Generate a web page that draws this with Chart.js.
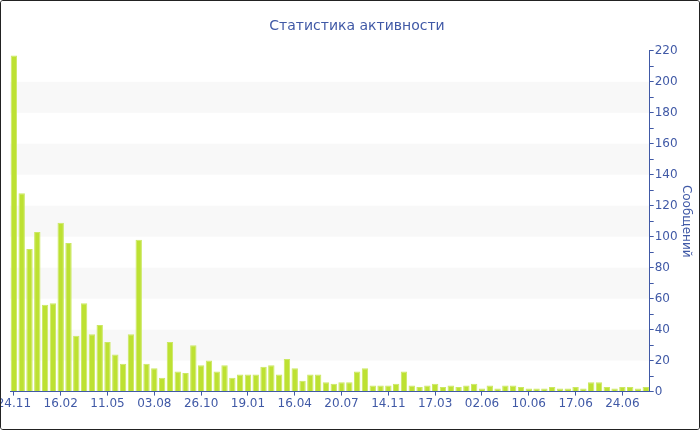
<!DOCTYPE html>
<html>
<head>
<meta charset="utf-8">
<script src="https://cdn.jsdelivr.net/npm/chart.js@4.4.1/dist/chart.umd.min.js"></script>
<style>
  body { margin: 0; background: #fff; }
  #wrap { width: 700px; height: 430px; box-sizing: border-box; border: 1px solid #222; border-radius: 3px; overflow: hidden; }
  canvas { display: block; }
</style>
</head>
<body>
<div id="wrap"><canvas id="activityChart" width="698" height="428"></canvas></div>
<script>
// Dates (one per bar), only every 6th is shown on the axis
const dates = [
  '24.11', '08.12', '22.12', '05.01', '19.01', '02.02',
  '16.02', '02.03', '16.03', '30.03', '13.04', '27.04',
  '11.05', '25.05', '08.06', '22.06', '06.07', '20.07',
  '03.08', '17.08', '31.08', '14.09', '28.09', '12.10',
  '26.10', '09.11', '23.11', '07.12', '21.12', '05.01',
  '19.01', '02.02', '16.02', '02.03', '16.03', '30.03',
  '16.04', '02.05', '18.05', '03.06', '19.06', '05.07',
  '20.07', '09.08', '29.08', '18.09', '07.10', '26.10',
  '14.11', '05.12', '25.12', '14.01', '03.02', '24.02',
  '17.03', '30.03', '13.04', '27.04', '08.05', '20.05',
  '02.06', '03.06', '04.06', '05.06', '06.06', '08.06',
  '10.06', '11.06', '12.06', '13.06', '14.06', '15.06',
  '17.06', '18.06', '19.06', '20.06', '21.06', '22.06',
  '24.06', '25.06', '26.06', '27.06'
];

// Messages per period
const messages = [
  217, 128, 92, 103, 56, 57,
  109, 96, 36, 57, 37, 43,
  32, 24, 18, 37, 98, 18,
  15, 9, 32, 13, 12, 30,
  17, 20, 13, 17, 9, 11,
  11, 11, 16, 17, 11, 21,
  15, 7, 11, 11, 6, 5,
  6, 6, 13, 15, 4, 4,
  4, 5, 13, 4, 3, 4,
  5, 3, 4, 3, 4, 5,
  2, 4, 2, 4, 4, 3,
  2, 2, 2, 3, 2, 2,
  3, 2, 6, 6, 3, 2,
  3, 3, 2, 3
];

// grey background stripes (start value, each 20 high)
const bandStarts = [20, 60, 100, 140, 180];
const bandHeight = 20;

const blue = '#4059a6';
const axisFont = { family: 'DejaVu Sans', size: 12 };

const bandsPlugin = {
  id: 'bands',
  beforeDraw(chart) {
    const { ctx, chartArea, scales } = chart;
    ctx.save();
    ctx.fillStyle = '#ffffff';
    ctx.fillRect(0, 0, chart.width, chart.height);
    ctx.fillStyle = '#f8f8f8';
    bandStarts.forEach(function (start) {
      const top = scales.y.getPixelForValue(start + bandHeight);
      const bottom = scales.y.getPixelForValue(start);
      ctx.fillRect(chartArea.left, top, chartArea.right - chartArea.left, bottom - top);
    });
    ctx.restore();
  }
};

new Chart(document.getElementById('activityChart').getContext('2d'), {
  type: 'bar',
  data: {
    labels: dates,
    datasets: [{
      label: 'Сообщений',
      data: messages,
      backgroundColor: '#bde132',
      borderColor: '#cbe862',
      borderWidth: 1,
      borderSkipped: 'bottom',
      barPercentage: 0.82,
      categoryPercentage: 1
    }]
  },
  options: {
    responsive: false,
    animation: false,
    devicePixelRatio: 1,
    layout: { padding: { left: 9, right: -5, top: 0, bottom: 17 } },
    plugins: {
      legend: { display: false },
      tooltip: { enabled: false },
      title: {
        display: true,
        text: 'Статистика активности',
        color: blue,
        font: { family: 'DejaVu Sans', size: 14, weight: 'normal' },
        padding: { top: 17, bottom: 16 }
      }
    },
    scales: {
      x: {
        offset: true,
        grid: {
          offset: false,
          drawOnChartArea: false,
          tickLength: 4,
          color: function (c) { return c.index % 6 === 0 ? blue : 'rgba(0,0,0,0)'; }
        },
        border: { color: blue, width: 1 },
        ticks: {
          autoSkip: false,
          maxRotation: 0,
          color: blue,
          font: axisFont,
          padding: 1,
          callback: function (v, i) { return i % 6 === 0 ? dates[i] : ''; }
        },
        afterFit: function (scale) { scale.paddingLeft = 0; scale.paddingRight = 0; }
      },
      y: {
        position: 'right',
        min: 0,
        max: 220,
        grid: { drawOnChartArea: false, tickLength: 4, color: blue },
        border: { color: blue, width: 1 },
        ticks: {
          stepSize: 10,
          autoSkip: false,
          color: blue,
          font: axisFont,
          padding: 1,
          callback: function (v) { return v % 20 === 0 ? v : ''; }
        },
        title: {
          display: true,
          text: 'Сообщений',
          color: blue,
          font: { family: 'DejaVu Sans', size: 12 },
          padding: { top: 11, bottom: 0 }
        }
      }
    }
  },
  plugins: [bandsPlugin]
});
</script>
</body>
</html>
